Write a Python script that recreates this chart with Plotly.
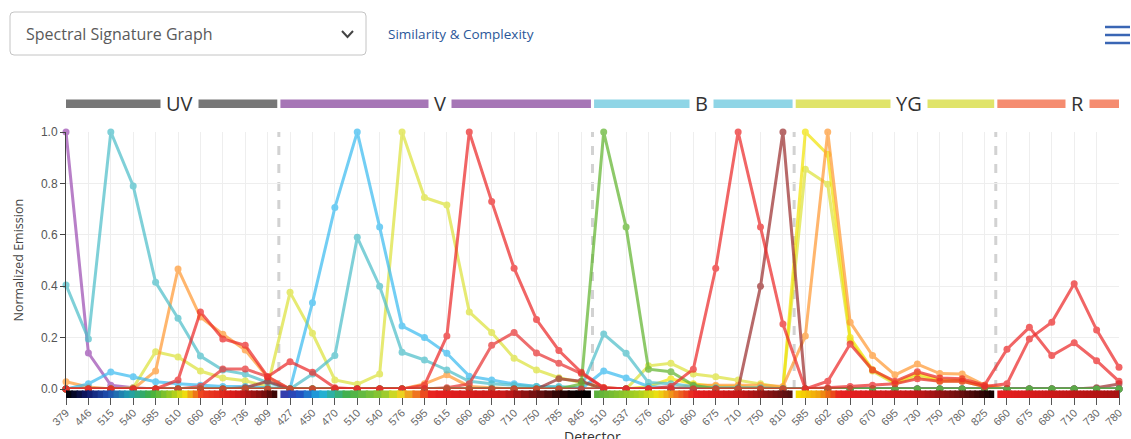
import plotly.graph_objects as go

# ---------------- data ----------------
group_names = ["UV", "V", "B", "YG", "R"]
uv_detectors = [379, 446, 515, 540, 585, 610, 660, 695, 736, 809]
v_detectors = [427, 450, 470, 510, 540, 576, 595, 615, 660, 680, 710, 750, 785, 845]
b_detectors = [510, 537, 576, 602, 660, 675, 710, 750, 810]
yg_detectors = [585, 602, 660, 670, 695, 730, 750, 780, 825]
r_detectors = [660, 675, 680, 710, 730, 780]

#                 UV (10) + V (14) + B (9) + YG (9) + R (6)
purple      = [1.0, 0.14, 0.015, 0.005, 0, 0, 0, 0, 0, 0] + [0]*14 + [0]*9 + [0]*9 + [0]*6
yellow_v    = [0, 0, 0, 0.005, 0.145, 0.125, 0.07, 0.043, 0.032, 0.01] + [0.376, 0.217, 0.035, 0.018, 0.058, 1.0, 0.745, 0.716, 0.30, 0.22, 0.12, 0.074, 0.044, 0.025] + [0.005, 0.0, 0.09, 0.10, 0.058, 0.048, 0.035, 0.02, 0.005] + [0.855, 0.797, 0.19, 0.07, 0.02, 0.048, 0.03, 0.03, 0.01] + [0]*6
yellow_yg   = [0]*10 + [0]*14 + [0, 0, 0.01, 0.04, 0.02, 0.01, 0.01, 0.005, 0] + [1.0, 0.913, 0.20, 0.075, 0.025, 0.06, 0.035, 0.035, 0.01] + [0]*6
orange      = [0.028, 0.008, 0, 0, 0.07, 0.467, 0.28, 0.213, 0.152, 0.045] + [0, 0, 0, 0, 0, 0, 0.02, 0.055, 0.01, 0.005, 0, 0, 0, 0] + [0, 0, 0, 0, 0.015, 0.015, 0.015, 0.015, 0.01] + [0.206, 1.0, 0.26, 0.13, 0.055, 0.097, 0.06, 0.058, 0.015] + [0]*6
sky_blue    = [0.0, 0.02, 0.066, 0.048, 0.028, 0.02, 0.015, 0.01, 0.01, 0.005] + [0.0, 0.336, 0.706, 1.0, 0.63, 0.245, 0.20, 0.139, 0.05, 0.035, 0.02, 0.01, 0.005, 0.0] + [0.07, 0.043, 0.01, 0.005, 0, 0, 0, 0, 0] + [0]*9 + [0]*6
teal        = [0.405, 0.195, 1.0, 0.79, 0.415, 0.275, 0.128, 0.074, 0.058, 0.025] + [0.0, 0.058, 0.13, 0.59, 0.40, 0.143, 0.113, 0.074, 0.03, 0.02, 0.015, 0.01, 0.01, 0.005] + [0.214, 0.139, 0.025, 0.02, 0.01, 0.005, 0.005, 0.005, 0.0] + [0]*9 + [0]*6
dark_red    = [0, 0, 0, 0, 0, 0, 0, 0, 0.005, 0.03] + [0]*12 + [0.04, 0.03] + [0, 0, 0, 0, 0, 0, 0.0, 0.40, 1.0] + [0]*9 + [0, 0, 0, 0, 0.005, 0.02]
red_2       = [0, 0, 0, 0, 0, 0, 0.01, 0.078, 0.078, 0.048] + [0, 0, 0, 0, 0, 0, 0, 0.005, 0.02, 0.17, 0.22, 0.14, 0.10, 0.06] + [0.005, 0, 0, 0, 0, 0, 0, 0, 0] + [0]*9 + [0]*6
dark_teal   = [0]*10 + [0]*14 + [0]*9 + [0]*9 + [0]*6
green       = [0]*10 + [0]*13 + [0.02] + [1.0, 0.63, 0.077, 0.067, 0.015, 0, 0, 0, 0] + [0]*9 + [0]*6
red_1       = [0, 0, 0, 0, 0, 0.035, 0.30, 0.195, 0.17, 0.048] + [0.106, 0.065, 0.005, 0, 0, 0, 0, 0, 0, 0, 0, 0, 0, 0] + [0, 0, 0, 0.01, 0.077, 0.47, 1.0, 0.63, 0.253] + [0.0, 0.005, 0.01, 0.015, 0.02, 0.04, 0.03, 0.03, 0.01] + [0.02, 0.195, 0.26, 0.41, 0.23, 0.085]
red_a       = [0]*10 + [0, 0, 0, 0, 0, 0, 0.015, 0.206, 1.0, 0.73, 0.47, 0.27, 0.15, 0.065] + [0.005, 0, 0, 0, 0, 0, 0, 0, 0] + [0.0, 0.03, 0.175, 0.074, 0.03, 0.067, 0.043, 0.04, 0.015] + [0.155, 0.24, 0.13, 0.18, 0.11, 0.03]

series = [
    ("purple", purple, "#9d4fb3"),
    ("yellow_v", yellow_v, "#dde23c"),
    ("yellow_yg", yellow_yg, "#f2e40a"),
    ("orange", orange, "#ff9a35"),
    ("sky_blue", sky_blue, "#3cbcf0"),
    ("teal", teal, "#4fbfca"),
    ("dark_red", dark_red, "#9c3030"),
    ("red_2", red_2, "#e83535"),
    ("dark_teal", dark_teal, "#1aa5a5"),
    ("green", green, "#62b530"),
    ("red_1", red_1, "#ec2a2a"),
    ("red_a", red_a, "#ec2a2a"),
]

# gradient stops for the detector colour strip of each laser group
strip_stops = [
    [(0, "#000000"), (0.1, "#10186a"), (0.2, "#2050b0"), (0.3, "#20a0b0"), (0.4, "#40b040"), (0.5, "#a0cc20"), (0.56, "#f0e010"), (0.64, "#ee4020"), (0.8, "#d81a1a"), (0.93, "#801010"), (1.0, "#300606")],
    [(0, "#3a3aa8"), (0.06, "#2050c0"), (0.13, "#20b0e0"), (0.21, "#40b050"), (0.33, "#90c830"), (0.38, "#ece020"), (0.44, "#f07020"), (0.49, "#e82020"), (0.72, "#c81818"), (0.84, "#601010"), (0.93, "#100000"), (1.0, "#000000")],
    [(0, "#58b040"), (0.22, "#a8d020"), (0.32, "#f0e010"), (0.42, "#f07020"), (0.5, "#e82020"), (0.75, "#c41818"), (1.0, "#501010")],
    [(0, "#f8e400"), (0.12, "#f0a010"), (0.22, "#e82020"), (0.6, "#c81818"), (0.82, "#701010"), (1.0, "#100000")],
    [(0, "#e82020"), (1.0, "#a01010")],
]
header_colors = ["#777777", "#a676b6", "#8fd5e6", "#e0e46a", "#f58c70"]
label_frac = [0.446, 0.476, 0.479, 0.475, 0.495]

# ---------------- derived ----------------
groups = [uv_detectors, v_detectors, b_detectors, yg_detectors, r_detectors]
ticktext = [str(d) for g in groups for d in g]
xpos = list(range(len(ticktext)))
bounds = []
start = 0
for g in groups:
    bounds.append((start - 0.5, start + len(g) - 0.5))
    start += len(g)
spans = []
for i, (a, b) in enumerate(bounds):
    a2 = 0 if i == 0 else a + 0.07
    b2 = b + 0.2 if i == len(bounds) - 1 else b - 0.07
    spans.append((a2, b2))

# pixel helpers for page chrome
W, H = 1131, 439
ML, MR, MT, MB = 66, 12, 132, 50
PW, PH = W - ML - MR, H - MT - MB


def px(x):
    return (x - ML) / PW


def py(y):
    return (H - MB - y) / PH


def hex2rgb(h):
    h = h.lstrip("#")
    return tuple(int(h[i:i + 2], 16) for i in (0, 2, 4))


def interp(stops, t):
    for (t0, c0), (t1, c1) in zip(stops[:-1], stops[1:]):
        if t0 <= t <= t1:
            f = 0 if t1 == t0 else (t - t0) / (t1 - t0)
            r0, g0, b0 = hex2rgb(c0)
            r1, g1, b1 = hex2rgb(c1)
            return "rgb(%d,%d,%d)" % (r0 + (r1 - r0) * f, g0 + (g1 - g0) * f, b0 + (b1 - b0) * f)
    return stops[-1][1]


fig = go.Figure()
for name, vals, col in series:
    fig.add_trace(go.Scatter(
        x=xpos, y=vals, mode="lines+markers", name=name,
        line=dict(color=col, width=3), marker=dict(color=col, size=7),
        opacity=0.72, cliponaxis=False, showlegend=False, hoverinfo="skip"))

shapes = []
# dashed separators between laser groups
for a, b in bounds[1:]:
    shapes.append(dict(type="line", xref="x", yref="paper", x0=a, x1=a, y0=0, y1=1,
                       line=dict(color="#d2d2d2", width=3, dash="dash"), layer="below"))
# colour strip under the axis
N = 40
for (a, b), stops in zip(spans, strip_stops):
    w = (b - a) / N
    for k in range(N):
        t = (k + 0.5) / N
        shapes.append(dict(type="rect", xref="x", yref="paper", x0=a + k * w, x1=min(b, a + (k + 1) * w + w * 0.3),
                           y0=py(398), y1=py(390.5), fillcolor=interp(stops, t), line=dict(width=0), layer="above"))
# header bars
for (a, b), col in zip(spans, header_colors):
    shapes.append(dict(type="rect", xref="x", yref="paper", x0=a, x1=b, y0=py(108), y1=py(99.5),
                       fillcolor=col, line=dict(width=0), layer="above"))

# page chrome: dropdown box
x0, x1, y0, y1, r = 10, 366, 12, 55, 4
path = (f"M {px(x0 + r)},{py(y0)} L {px(x1 - r)},{py(y0)} Q {px(x1)},{py(y0)} {px(x1)},{py(y0 + r)} "
        f"L {px(x1)},{py(y1 - r)} Q {px(x1)},{py(y1)} {px(x1 - r)},{py(y1)} "
        f"L {px(x0 + r)},{py(y1)} Q {px(x0)},{py(y1)} {px(x0)},{py(y1 - r)} "
        f"L {px(x0)},{py(y0 + r)} Q {px(x0)},{py(y0)} {px(x0 + r)},{py(y0)} Z")
shapes.append(dict(type="path", xref="paper", yref="paper", path=path, line=dict(color="#c4c4c4", width=1), fillcolor="white"))
shapes.append(dict(type="path", xref="paper", yref="paper",
                   path=f"M {px(342)},{py(31)} L {px(347.5)},{py(37)} L {px(353)},{py(31)}",
                   line=dict(color="#444444", width=2)))
for yy in (27, 35, 43):
    shapes.append(dict(type="line", xref="paper", yref="paper", x0=px(1105), x1=px(1130), y0=py(yy), y1=py(yy),
                       line=dict(color="#3a66b4", width=2.5)))

annotations = []
for (a, b), name, f in zip(spans, group_names, label_frac):
    annotations.append(dict(x=a + f * (b - a), y=py(103.5), xref="x", yref="paper", text=name, showarrow=False,
                            xanchor="left", yanchor="middle", bgcolor="white", borderpad=5,
                            font=dict(family="Open Sans", size=20, color="#333333")))
annotations.append(dict(x=px(24), y=py(33.5), xref="paper", yref="paper", text="Spectral Signature Graph",
                        showarrow=False, xanchor="left", yanchor="middle",
                        font=dict(family="Open Sans", size=16, color="#5a5a5a")))
annotations.append(dict(x=px(386), y=py(34), xref="paper", yref="paper", text="Similarity &amp; Complexity",
                        showarrow=False, xanchor="left", yanchor="middle",
                        font=dict(family="Open Sans", size=13.5, color="#2b5799")))
annotations.append(dict(x=px(18), y=0.5, xref="paper", yref="paper", text="Normalized Emission",
                        showarrow=False, textangle=-90, xanchor="center", yanchor="middle",
                        font=dict(family="Open Sans", size=12.5, color="#444444")))
annotations.append(dict(x=0.5, y=py(436), xref="paper", yref="paper", text="Detector",
                        showarrow=False, xanchor="center", yanchor="middle",
                        font=dict(family="Open Sans", size=14, color="#333333")))

fig.update_layout(
    width=W, height=H,
    margin=dict(l=ML, r=MR, t=MT, b=MB, pad=0, autoexpand=False),
    paper_bgcolor="white", plot_bgcolor="white",
    shapes=shapes, annotations=annotations,
    xaxis=dict(range=[0, len(xpos) - 1], tickmode="array", tickvals=xpos, ticktext=ticktext,
               tickangle=-45, ticks="outside", ticklen=15, tickcolor="#555555", tickwidth=1,
               ticklabelstandoff=-3,
               tickfont=dict(family="Liberation Sans", size=11, color="#666666"), automargin=False,
               showgrid=True, gridcolor="#eeeeee", showline=False, zeroline=False, fixedrange=True),
    yaxis=dict(range=[0, 1], dtick=0.2, tickformat=".1f", ticks="outside", ticklen=5, automargin=False,
               tickcolor="#444444", showline=True, linecolor="#444444", linewidth=1,
               tickfont=dict(family="Liberation Sans", size=12, color="#555555"),
               showgrid=True, gridcolor="#eeeeee", zeroline=False, fixedrange=True),
)

fig.write_html("out.html", config={"displayModeBar": False},
               post_script="document.body.style.margin='0';document.body.style.overflow='hidden';")
